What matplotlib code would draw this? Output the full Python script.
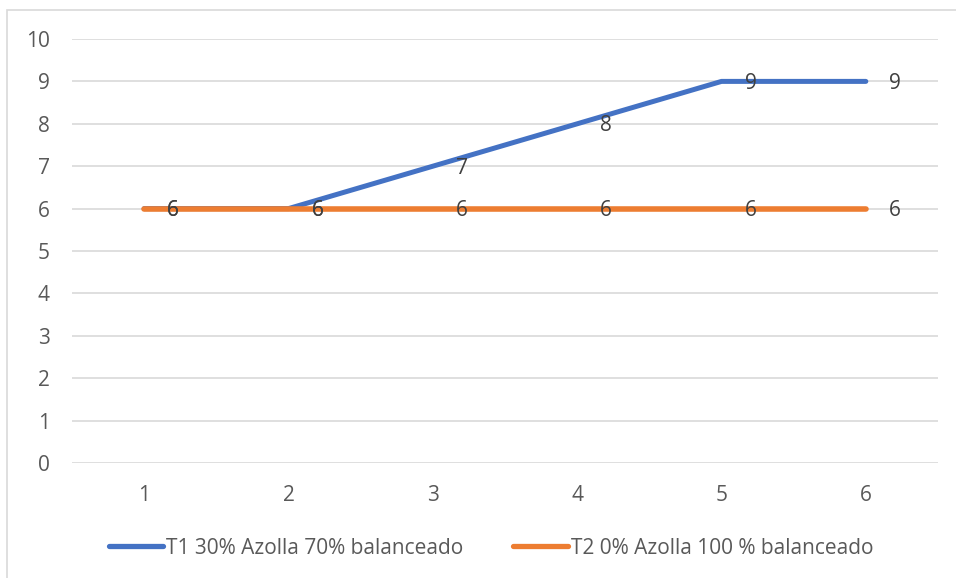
import matplotlib
matplotlib.use("Agg")
import matplotlib.pyplot as plt
from matplotlib.patches import Rectangle

categories = ["1", "2", "3", "4", "5", "6"]
t1_values = [6, 6, 7, 8, 9, 9]
t2_values = [6, 6, 6, 6, 6, 6]
series_names = ["T1 30% Azolla 70% balanceado", "T2 0% Azolla 100 % balanceado"]
y_ticks = list(range(0, 11))

plt.rcParams["font.family"] = ["Open Sans", "DejaVu Sans"]
fs = 15

fig = plt.figure(figsize=(9.56, 5.78), dpi=100)
fig.patch.set_facecolor("white")

# chart area frame
fig.patches.append(Rectangle((7 / 956, -0.1), 1.2, 1 - 10 / 578 + 0.1,
                             transform=fig.transFigure, fill=False,
                             edgecolor="#D9D9D9", linewidth=1.2))

ax = fig.add_axes([72 / 956, 1 - 463 / 578, (938 - 72) / 956, (463 - 39) / 578])
x = list(range(len(categories)))

blue = "#4472C4"
orange = "#ED7D31"
ax.plot(x, t1_values, color=blue, linewidth=3.6, solid_capstyle="round",
        solid_joinstyle="round", label=series_names[0], zorder=3)
ax.plot(x, t2_values, color=orange, linewidth=4.0, solid_capstyle="round",
        solid_joinstyle="round", label=series_names[1], zorder=3)

for vals in (t1_values, t2_values):
    for xi, v in zip(x, vals):
        ax.annotate(f"{v}", (xi, v), xytext=(29, -2), textcoords="offset pixels",
                    ha="center", va="center", fontsize=fs, color="#404040", zorder=4)

ax.set_xlim(-0.5, len(categories) - 0.5)
ax.set_ylim(0, 10)
ax.set_yticks(y_ticks)
ax.set_xticks(x)
ax.set_xticklabels(categories)
ax.grid(axis="y", color="#D9D9D9", linewidth=1.2, zorder=0)
ax.set_axisbelow(True)
for s in ax.spines.values():
    s.set_visible(False)
ax.tick_params(axis="both", length=0, labelsize=fs, colors="#595959")
ax.tick_params(axis="y", pad=16)
ax.tick_params(axis="x", pad=16)

leg = fig.legend(loc="center", bbox_to_anchor=(491 / 956, 1 - 548 / 578), ncol=2,
                 frameon=False, fontsize=fs, handlelength=2.6, handletextpad=0.15,
                 columnspacing=2.4, labelcolor="#595959")
for h in leg.get_lines():
    h.set_linewidth(3.8)
    h.set_solid_capstyle("round")

fig.savefig("out.png", dpi=100)
